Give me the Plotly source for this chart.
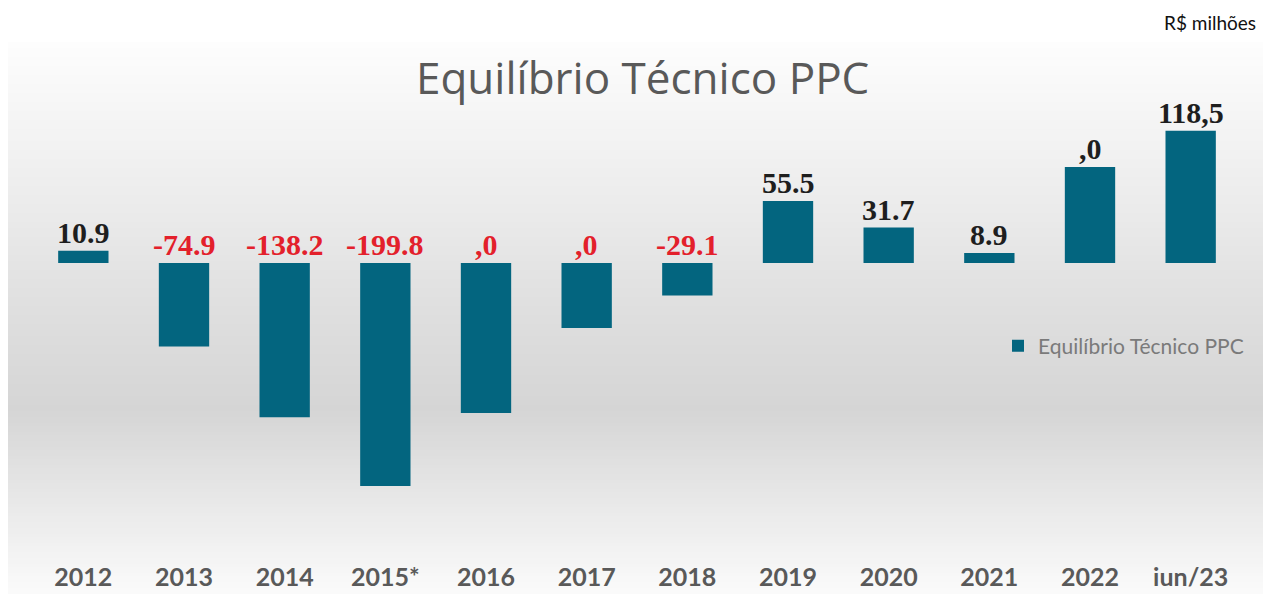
import plotly.graph_objects as go
import numpy as np

categories = ["2012", "2013", "2014", "2015*", "2016", "2017", "2018", "2019", "2020", "2021", "2022", "iun/23"]
values = [10.9, -74.9, -138.2, -199.8, -134.4, -58.2, -29.1, 55.5, 31.7, 8.9, 86.0, 118.5]
labels = ["10.9", "-74.9", "-138.2", "-199.8", ",0", ",0", "-29.1", "55.5", "31.7", "8.9", ",0", "118,5"]
series_name = "Equilíbrio Técnico PPC"

W, H = 1263, 594
ML, MR, MT, MB = 33, 22, 100, 34
PW, PH = W - ML - MR, H - MT - MB
ZERO_PX, SCALE = 263, 1.116

def px_x(px):
    return (px - ML) / PW

def px_y(py):
    return (H - MB - py) / PH

BAR = "#03657f"
RED = "#e3202b"
DARK = "#1e1e1e"

fig = go.Figure()
fig.add_trace(go.Bar(x=categories, y=values, name=series_name, marker=dict(color=BAR, line=dict(width=0)),
                     showlegend=True, hoverinfo="x+y"))

# gradient background
stops_y = [42, 200, 300, 410, 500, 590]
stops_c = [253, 236, 224, 213, 232, 250]
shapes = []
step = 3
for py in range(42, 594, step):
    c = int(round(np.interp(py + step / 2, stops_y, stops_c)))
    shapes.append(dict(type="rect", xref="paper", yref="paper", layer="below",
                       x0=px_x(8), x1=px_x(1263), y0=px_y(min(py + step + 1, 594)), y1=px_y(py),
                       fillcolor=f"rgb({c},{c},{c})", line=dict(width=0)))

annotations = []
for i, (cat, v, lab) in enumerate(zip(categories, values, labels)):
    col = RED if (v < 0) else DARK
    annotations.append(dict(x=i, y=max(v, 0), text=lab, showarrow=False, xref="x", yref="y",
                            yanchor="bottom", yshift=0,
                            font=dict(family="Liberation Serif", size=30, color=col, weight="bold")))
annotations.append(dict(x=px_x(642), y=px_y(77), xref="paper", yref="paper", text="Equilíbrio Técnico PPC",
                        showarrow=False, xanchor="center", yanchor="middle",
                        font=dict(family="Open Sans", size=44, color="#595959")))
annotations.append(dict(x=px_x(1258), y=px_y(22), xref="paper", yref="paper", text="R$ milhões",
                        showarrow=False, xanchor="right", yanchor="middle",
                        font=dict(family="Lato", size=19, color="#111111")))

fig.update_layout(
    width=W, height=H,
    margin=dict(l=ML, r=MR, t=MT, b=MB),
    paper_bgcolor="white", plot_bgcolor="rgba(0,0,0,0)",
    bargap=0.5,
    shapes=shapes,
    annotations=annotations,
    xaxis=dict(type="category", automargin=False, showgrid=False, zeroline=False, showline=False, ticks="",
               tickfont=dict(family="Lato", size=25, color="#595959", weight="bold")),
    yaxis=dict(range=[-(H - MB - ZERO_PX) / SCALE, (ZERO_PX - MT) / SCALE], automargin=False,
               showgrid=False, zeroline=False, showticklabels=False, showline=False),
    legend=dict(x=px_x(998), y=px_y(346), xanchor="left", yanchor="middle", bgcolor="rgba(0,0,0,0)",
                font=dict(family="Lato", size=21, color="#7a7a7a"), itemwidth=30),
)

fig.write_html("out.html")
